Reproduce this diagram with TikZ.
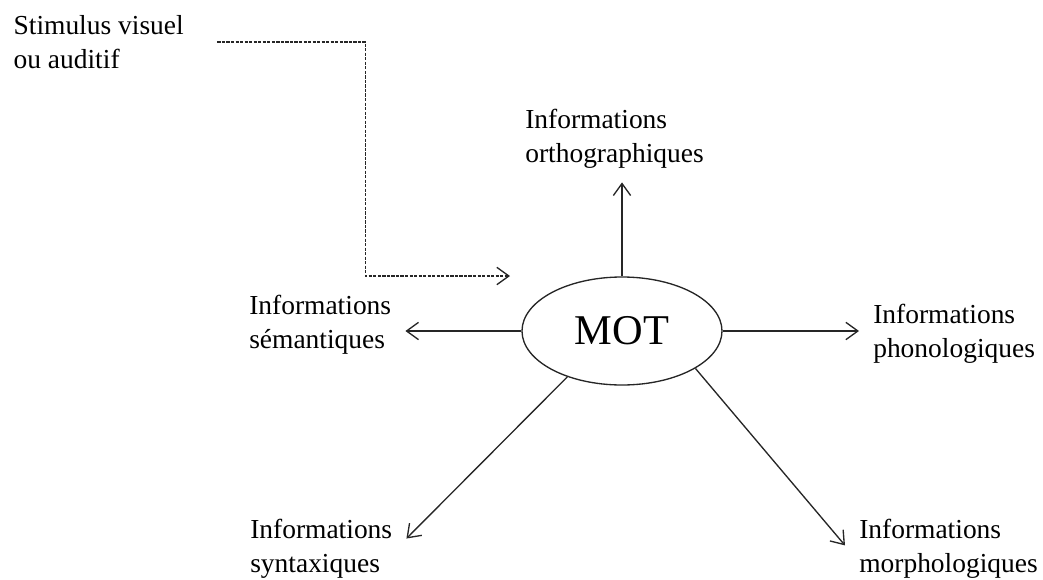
\documentclass[tikz,border=0pt]{standalone}
\usepackage{fontspec}
\setmainfont{Liberation Serif}
\usetikzlibrary{positioning, arrows.meta, shapes.geometric}

\begin{document}
\begin{tikzpicture}[x=0.75pt, y=-0.75pt,
    >={Straight Barb[length=9pt, width=13pt]},
    info/.style={font=\fontsize{20.6}{25.5}\selectfont, align=left,
        inner sep=10.5pt, anchor=west},
    fleche/.style={->, draw=black!85, line width=1pt}]
    \useasboundingbox (0,0) rectangle (1043,579);

    \node [draw,
        ellipse,
        line width=1pt,
        draw=black!85,
        minimum width=150pt,
        minimum height=81pt,
        inner sep=0pt,
        font=\fontsize{31.8}{36}\selectfont
    ] (mot) at (622,331) {MOT};

    \node [info] (ortho) at (511,138.5) {Informations\\orthographiques};
    \node [info] (sem) at (235,324.5) {Informations\\sémantiques};
    \node [info] (phono) at (859,333.5) {Informations\\phonologiques};
    \node [info] (synt) at (236,549) {Informations\\syntaxiques};
    \node [info] (morpho) at (845,549) {Informations\\morphologiques};

    \node [info, inner xsep=25pt] (stimulus) at (-20,42) {Stimulus visuel\\ou auditif};
    \coordinate (entree) at (510,276);

    % fleches
    \draw[fleche] (mot.north) -- (mot.north |- ortho.south);
    \draw[fleche] (mot.west) -- (mot.west -| sem.east);
    \draw[fleche] (mot.east) -- (mot.east -| phono.west);
    \draw[fleche] (mot.220) -- (synt.7);
    \draw[fleche] (mot.333) -- (morpho.178);
    \draw[fleche, dash pattern=on 2.4pt off 1pt]
        (stimulus.east) -- ++(148,0) |- (entree);
\end{tikzpicture}
\end{document}
